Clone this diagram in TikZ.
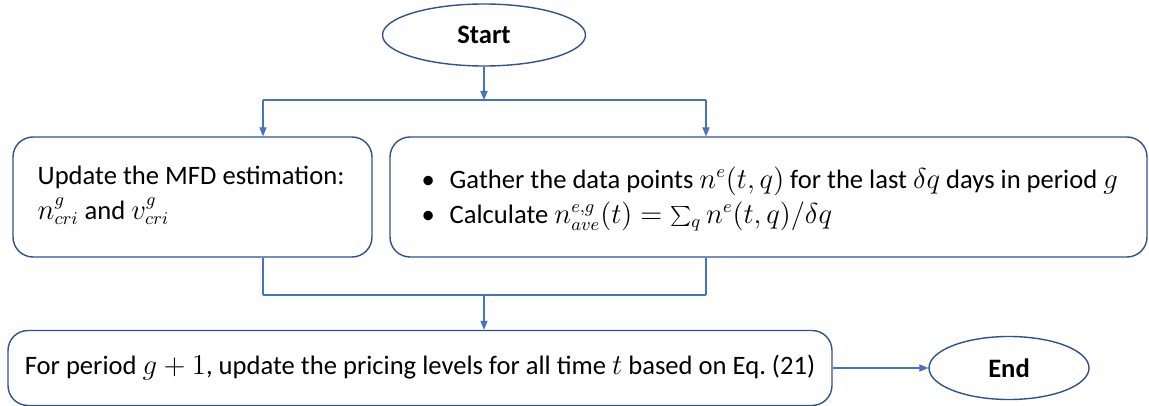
\documentclass[tikz,border=0pt]{standalone}
\usepackage{fontspec}
\setmainfont{Carlito}
\usetikzlibrary{arrows.meta,shapes.geometric}
\definecolor{linecol}{HTML}{4472C4}
\definecolor{edgecol}{HTML}{2F528F}
\newcommand{\bulitem}{\makebox[14pt][l]{\textbullet}}

\begin{document}
\begin{tikzpicture}[x=0.5pt,y=-0.5pt,font=\fontsize{13.3}{15}\selectfont,
	term/.style={ellipse,draw=edgecol,line width=0.7pt,inner sep=0pt,font=\fontsize{13.3}{15}\selectfont\bfseries},
	stepbox/.style={rectangle,draw=edgecol,line width=0.7pt,rounded corners=10pt,inner sep=0pt},
	steptext/.style={anchor=west,align=left,inner sep=0pt,font=\fontsize{13.3}{17.5}\selectfont},
	link/.style={draw=linecol,line width=0.6pt},
	arr/.style={link,-{Triangle[length=4.5pt,width=3.6pt]}}]
\useasboundingbox (0,0) rectangle (1149,406);
\node[term,minimum width=101.5pt,minimum height=31pt] (start) at (484,35) {Start};
\node[stepbox,minimum width=179.5pt,minimum height=60pt] (upd) at (192.5,197) {};
\node[stepbox,minimum width=378.5pt,minimum height=60pt] (gath) at (768.5,197) {};
\node[stepbox,minimum width=412pt,minimum height=37.5pt] (price) at (420,368) {For period $g+1$, update the pricing levels for all time $t$ based on Eq.~(21)};
\node[term,minimum width=80pt,minimum height=31.5pt] (end) at (1009,368) {End};
\node[steptext] (updtxt) at ([xshift=12.5pt,yshift=1pt]upd.west) {Update the MFD estimation:\\$n^{g}_{cri}$ and $v^{g}_{cri}$};
\node[steptext] (gathtxt) at ([xshift=16pt,yshift=-1pt]gath.west) {\bulitem Gather the data points $n^{e}(t,q)$ for the last $\delta q$ days in period $g$\\\bulitem Calculate $n^{e,g}_{ave}(t)=\sum_q n^{e}(t,q)/\delta q$};
% split and merge points
\coordinate (split) at (484,100);
\coordinate (splitl) at (263,100);
\coordinate (splitr) at (706,100);
\coordinate (merge) at (484,295);
\coordinate (mergel) at (263,295);
\coordinate (merger) at (706,295);
\draw[arr] (start) -- (split);
\draw[link] (splitl) -- (splitr);
\foreach \c/\b in {splitl/upd,splitr/gath}
	\draw[arr] (\c) -- (\c |- \b.north);
\foreach \c/\b in {mergel/upd,merger/gath}
	\draw[link] (\c |- \b.south) -- (\c);
\draw[link] (mergel) -- (merger);
\draw[arr] (merge) -- (merge |- price.north);
\draw[arr] (price) -- (end);
\end{tikzpicture}
\end{document}
